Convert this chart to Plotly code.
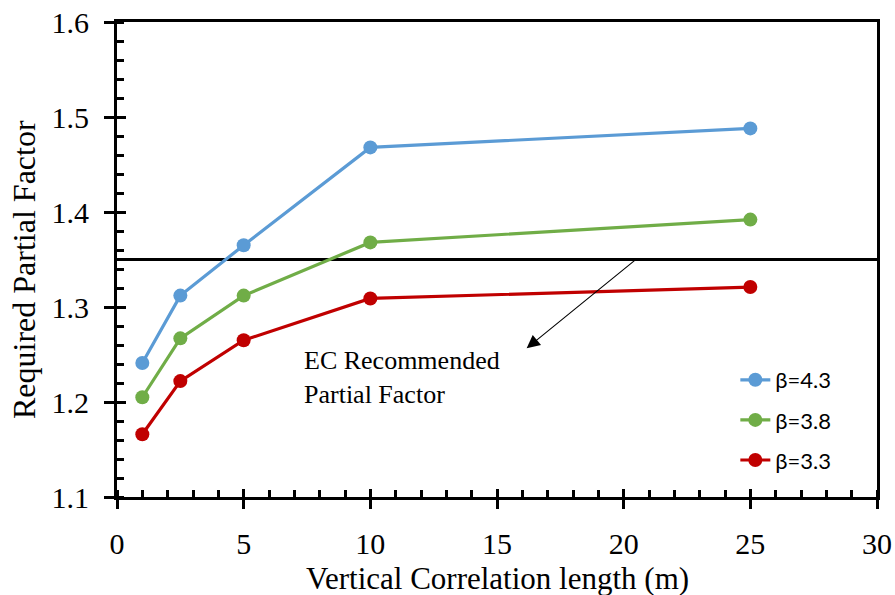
import plotly.graph_objects as go

# Vertical correlation length (m)
corr_length = [1, 2.5, 5, 10, 25]

# Required partial factor for each target reliability index
beta_labels = ["β=4.3", "β=3.8", "β=3.3"]
pf_beta43 = [1.241, 1.312, 1.365, 1.468, 1.488]
pf_beta38 = [1.205, 1.267, 1.312, 1.368, 1.392]
pf_beta33 = [1.166, 1.222, 1.265, 1.309, 1.321]
series_colors = ["#5B9BD5", "#70AD47", "#C00000"]

# Eurocode recommended partial factor
ec_factor = 1.35
x_range = [0, 30]
y_range = [1.1, 1.6]

# Arrow pointing from the EC line to its label
arrow_tail = (20.57, 1.352)
arrow_head = (16.17, 1.2565)
label_pos = (7.3, 1.261)

SERIF = "Liberation Serif, Times New Roman, serif"

fig = go.Figure()

fig.add_trace(go.Scatter(
    x=x_range, y=[ec_factor, ec_factor], mode="lines",
    line=dict(color="black", width=3), showlegend=False, hoverinfo="skip"))

for name, vals, col in zip(beta_labels, [pf_beta43, pf_beta38, pf_beta33], series_colors):
    fig.add_trace(go.Scatter(
        x=corr_length, y=vals, mode="lines+markers", name=name,
        legendgroup=name,
        line=dict(color=col, width=3.2),
        marker=dict(color=col, size=14)))

# invisible trace so the overlay axes (crossing major ticks) are drawn
fig.add_trace(go.Scatter(x=x_range, y=y_range, xaxis="x2", yaxis="y2",
                         mode="markers", marker=dict(opacity=0),
                         showlegend=False, hoverinfo="skip"))

fig.add_annotation(
    x=arrow_head[0], y=arrow_head[1], ax=arrow_tail[0], ay=arrow_tail[1],
    xref="x", yref="y", axref="x", ayref="y", text="", showarrow=True,
    arrowhead=2, arrowsize=2.4, arrowwidth=1.1, arrowcolor="black")

fig.add_annotation(
    x=label_pos[0], y=label_pos[1], xref="x", yref="y",
    text="EC Recommended<br>Partial Factor", showarrow=False,
    xanchor="left", yanchor="top", align="left",
    font=dict(family=SERIF, size=26, color="black"))

# axis titles
fig.add_annotation(
    x=0.5, y=-0.171, xref="paper", yref="paper", xanchor="center", yanchor="middle",
    text="Vertical Correlation length (m)", showarrow=False,
    font=dict(family=SERIF, size=31, color="black"))
fig.add_annotation(
    x=-0.1224, y=0.48, xref="paper", yref="paper", xanchor="center", yanchor="middle",
    text="Required Partial Factor", showarrow=False, textangle=-90,
    font=dict(family=SERIF, size=32, color="black"))

axis_common = dict(showgrid=False, zeroline=False, color="black",
                   tickfont=dict(family=SERIF, size=30, color="black"))

fig.update_layout(
    width=895, height=595,
    margin=dict(l=117, r=18, t=22, b=98, autoexpand=False),
    paper_bgcolor="white", plot_bgcolor="white",
    xaxis=dict(range=x_range, dtick=5, ticks="outside", ticklen=9, tickwidth=3,
               tickcolor="black", linecolor="black", linewidth=3, mirror=True,
               ticklabelstandoff=9,
               minor=dict(dtick=1, ticks="inside", ticklen=7, tickwidth=2.5, tickcolor="black"),
               automargin=False, **axis_common),
    yaxis=dict(range=y_range, dtick=0.1, tickformat=".1f", ticks="outside", ticklen=10,
               tickwidth=3, tickcolor="black", linecolor="black", linewidth=3, mirror=True,
               ticklabelstandoff=9,
               minor=dict(dtick=0.02, ticks="inside", ticklen=7, tickwidth=2.5, tickcolor="black"),
               automargin=False, **axis_common),
    xaxis2=dict(overlaying="x", range=x_range, dtick=5, ticks="inside", ticklen=8,
                tickwidth=3, tickcolor="black", showticklabels=False, showline=False,
                showgrid=False, zeroline=False),
    yaxis2=dict(overlaying="y", range=y_range, dtick=0.1, ticks="inside", ticklen=9,
                tickwidth=3, tickcolor="black", showticklabels=False, showline=False,
                showgrid=False, zeroline=False),
    legend=dict(x=0.8136, y=0.2905, xanchor="left", yanchor="top",
                bgcolor="rgba(0,0,0,0)", tracegroupgap=8.5,
                font=dict(family="Lato, Carlito, Calibri, sans-serif", size=22, color="black")),
    showlegend=True,
)

fig.write_html("out.html")
